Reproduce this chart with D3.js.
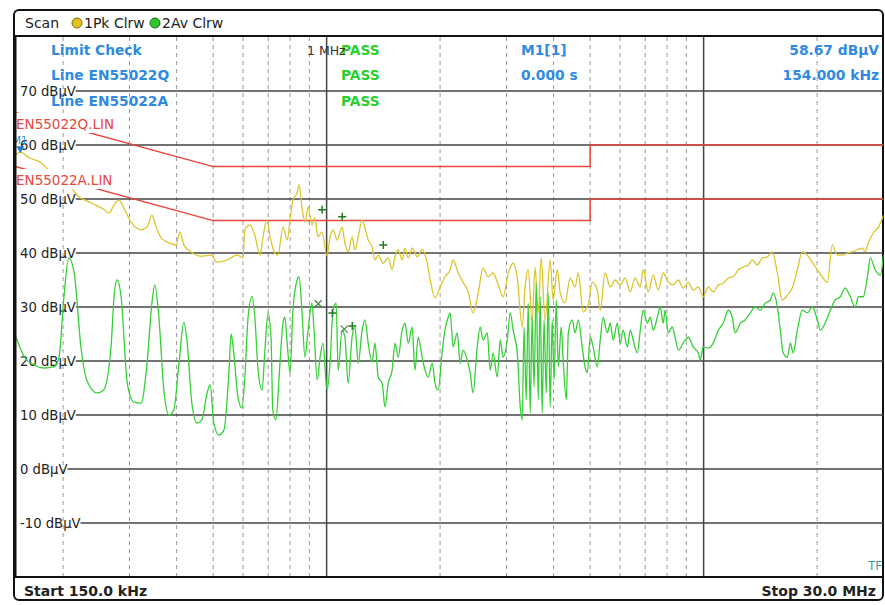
<!DOCTYPE html>
<html>
<head>
<meta charset="utf-8">
<script src="https://cdn.jsdelivr.net/npm/d3@7"></script>
<style>
  body { margin: 0; background: #fff; }
  svg { display: block; font-family: "DejaVu Sans", sans-serif; }
</style>
</head>
<body>
<svg id="chart" width="885" height="605"></svg>
<script>
// levels of the horizontal grid (dBuV)
const gridLevels = [70, 60, 50, 40, 30, 20, 10, 0, -10];
// vertical grid, kHz
const minorFreqs = [200, 300, 400, 500, 600, 700, 800, 900,
  2000, 3000, 4000, 5000, 6000, 7000, 8000, 9000, 20000];
const majorFreqs = [1000, 10000];

// EN55022 limit lines [kHz, dBuV]
const limitQP = [[150, 66], [500, 56], [5000, 56], [5000, 60], [30000, 60]];
const limitAV = [[150, 56], [500, 46], [5000, 46], [5000, 50], [30000, 50]];

// trace 1: peak, clear/write [kHz, dBuV]
const peakTrace = [
  [150, 58.2], [154, 58.67], [163, 57.6], [174, 56.8], [181, 55.7], [196, 53.5], [209, 52.3],
  [218, 50.7], [237, 49.3], [256, 48.1], [265, 47.4], [273, 48.9], [281, 49.8], [290, 48.3],
  [303, 45.7], [322, 44.3], [334, 44.8], [344, 47.0], [353, 44.8], [364, 42.8], [382, 41.9],
  [399, 41.5], [408, 43.9], [418, 41.5], [437, 40.2], [464, 39.4], [494, 39.6], [512, 38.3],
  [544, 38.7], [554, 39.0], [579, 39.6], [600, 39.1], [607, 44.3], [626, 45.2], [645, 43.3],
  [666, 39.6], [678, 43.0], [695, 46.1], [708, 43.0], [729, 40.0], [743, 39.6], [766, 44.8],
  [786, 42.4], [800, 46.1], [814, 49.8], [835, 51.1], [845, 52.6], [860, 48.5], [876, 45.7],
  [893, 48.5], [914, 45.2], [930, 46.5], [949, 43.0], [972, 43.9], [1003, 39.4], [1021, 43.0],
  [1040, 44.3], [1066, 42.4], [1099, 44.8], [1118, 41.9], [1141, 40.2], [1168, 43.0], [1189, 40.6],
  [1213, 43.0], [1242, 46.1], [1264, 44.6], [1289, 42.4], [1320, 41.1], [1343, 38.7], [1371, 39.6],
  [1412, 38.1], [1457, 39.1], [1492, 36.9], [1518, 39.3], [1549, 40.6], [1586, 38.7], [1614, 40.9],
  [1646, 39.1], [1686, 40.9], [1740, 39.3], [1792, 40.6], [1849, 38.1], [1883, 35.0], [1939, 31.7],
  [2001, 33.7], [2060, 35.6], [2127, 36.9], [2165, 38.7], [2234, 36.3], [2301, 34.6], [2375, 32.8],
  [2446, 28.9], [2524, 32.6], [2600, 37.2], [2683, 35.6], [2764, 36.3], [2852, 34.1], [2938, 31.9],
  [3033, 36.3], [3124, 38.1], [3204, 35.4], [3302, 26.3], [3360, 33.7], [3426, 36.9], [3509, 27.0],
  [3571, 37.4], [3642, 28.9], [3708, 39.1], [3796, 27.6], [3918, 38.7], [3988, 31.3], [4091, 36.9],
  [4165, 32.6], [4289, 30.7], [4428, 35.4], [4560, 33.7], [4651, 36.3], [4791, 29.1], [4944, 30.4],
  [5063, 34.6], [5224, 33.1], [5319, 29.4], [5477, 36.3], [5654, 33.7], [5822, 35.0], [6010, 34.1],
  [6189, 35.4], [6389, 32.8], [6579, 35.4], [6792, 33.7], [6913, 36.9], [7133, 32.8], [7348, 35.9],
  [7582, 33.1], [7811, 36.3], [8060, 34.6], [8303, 34.1], [8568, 35.0], [8826, 33.5], [9108, 34.6],
  [9382, 33.1], [9682, 33.7], [9973, 31.9], [10292, 33.7], [10602, 32.8], [10940, 34.1], [11270, 34.4],
  [11629, 35.4], [11980, 35.6], [12362, 36.9], [12734, 37.4], [13140, 37.8], [13457, 38.7], [13884, 37.8],
  [14305, 39.1], [14759, 39.3], [15207, 40.2], [15689, 36.3], [16165, 31.3], [16677, 32.2], [17183, 33.5],
  [17727, 36.9], [18265, 40.2], [18844, 39.6], [19415, 38.3], [20031, 36.9], [20639, 35.6], [21294, 34.6],
  [21940, 41.5], [22635, 39.6], [23321, 39.6], [24061, 40.0], [24790, 40.2], [25577, 40.6], [26352, 40.9],
  [26818, 40.2], [27353, 41.9], [28177, 43.7], [29076, 44.8], [30000, 47.0]
];

// trace 2: average, clear/write [kHz, dBuV]
const avgTrace = [
  [150, 24.4], [158, 20.7], [167, 19.3], [178, 18.7], [189, 18.9], [195, 20.7], [201, 31.9],
  [207, 39.1], [214, 36.3], [223, 22.6], [231, 16.5], [246, 14.1], [256, 14.6], [268, 22.6],
  [273, 31.9], [278, 35.0], [285, 31.9], [296, 15.9], [308, 12.4], [322, 12.2], [334, 19.6],
  [344, 30.7], [350, 34.1], [359, 28.1], [370, 14.6], [382, 10.0], [393, 10.9], [406, 19.6],
  [418, 27.2], [426, 23.9], [439, 12.2], [453, 8.5], [467, 9.1], [482, 14.1], [491, 15.6],
  [502, 8.5], [518, 6.3], [534, 7.2], [551, 18.3], [558, 25.0], [565, 22.6], [582, 13.3],
  [596, 11.3], [607, 17.0], [619, 28.1], [634, 31.9], [645, 28.1], [658, 18.3], [674, 14.6],
  [686, 22.0], [699, 28.9], [712, 24.4], [720, 10.9], [734, 9.1], [748, 17.0], [766, 27.0],
  [775, 28.1], [786, 23.3], [800, 17.8], [814, 29.4], [835, 35.0], [845, 35.6], [860, 29.4],
  [876, 20.7], [893, 25.7], [914, 30.7], [925, 26.3], [944, 16.5], [961, 20.7], [978, 23.3],
  [1003, 14.6], [1021, 19.6], [1040, 29.4], [1060, 30.7], [1073, 18.3], [1099, 25.7], [1118, 24.4],
  [1141, 15.9], [1168, 24.4], [1189, 26.3], [1213, 19.6], [1242, 25.7], [1264, 27.6], [1289, 23.3],
  [1320, 19.8], [1343, 23.3], [1371, 17.0], [1404, 15.9], [1428, 11.5], [1457, 15.9], [1492, 18.3],
  [1518, 23.3], [1549, 20.7], [1586, 25.7], [1614, 27.0], [1646, 23.3], [1686, 26.3], [1715, 18.3],
  [1750, 24.4], [1792, 20.7], [1824, 18.3], [1860, 17.0], [1905, 19.6], [1939, 15.9], [1977, 14.6],
  [2024, 21.5], [2060, 25.7], [2101, 28.1], [2127, 28.9], [2165, 22.6], [2220, 25.2], [2261, 19.6],
  [2301, 22.0], [2360, 20.2], [2403, 17.8], [2446, 14.1], [2509, 22.6], [2555, 26.3], [2600, 23.9],
  [2667, 25.2], [2716, 18.3], [2764, 21.5], [2835, 17.0], [2887, 23.9], [2938, 20.7], [3014, 23.9],
  [3069, 28.9], [3124, 25.7], [3204, 21.5], [3263, 11.5], [3302, 9.1], [3340, 26.3], [3385, 12.8],
  [3426, 30.7], [3468, 10.4], [3509, 28.1], [3550, 15.2], [3598, 34.4], [3642, 12.8], [3686, 31.9],
  [3730, 10.4], [3774, 27.6], [3825, 14.1], [3872, 32.6], [3918, 11.5], [3965, 27.6], [4012, 16.5],
  [4066, 31.3], [4116, 18.9], [4190, 26.3], [4240, 20.2], [4323, 12.8], [4376, 25.2], [4481, 27.6],
  [4560, 25.2], [4651, 27.6], [4763, 22.6], [4847, 18.9], [4914, 17.8], [5003, 24.4], [5093, 22.6],
  [5224, 18.9], [5319, 23.9], [5414, 28.1], [5553, 25.2], [5654, 27.0], [5755, 23.9], [5903, 27.0],
  [6010, 23.3], [6118, 25.7], [6275, 22.6], [6389, 25.7], [6503, 23.9], [6670, 21.5], [6792, 25.7],
  [6913, 29.4], [7090, 27.0], [7219, 28.1], [7348, 25.7], [7537, 28.1], [7674, 30.0], [7811, 27.0],
  [7903, 29.4], [8060, 25.2], [8254, 26.3], [8400, 24.4], [8568, 22.0], [8826, 23.3], [9108, 24.4],
  [9382, 22.6], [9682, 21.5], [9798, 20.2], [9973, 22.6], [10292, 22.4], [10602, 23.3], [10940, 25.7],
  [11270, 27.0], [11629, 29.4], [11909, 28.1], [12120, 25.2], [12511, 27.0], [12883, 27.6], [13299, 28.9],
  [13695, 30.0], [14137, 29.4], [14558, 30.7], [15028, 31.3], [15296, 32.6], [15689, 30.0], [15975, 25.7],
  [16260, 21.5], [16677, 20.7], [16980, 23.3], [17284, 21.5], [17727, 25.7], [18265, 29.4], [18844, 28.9],
  [19415, 30.0], [20031, 27.6], [20396, 25.7], [21003, 27.0], [21681, 29.4], [22327, 31.3], [23047, 31.9],
  [23733, 33.5], [24499, 31.9], [25228, 30.0], [25732, 31.9], [26508, 31.9], [27188, 35.6], [27682, 39.1],
  [28507, 36.9], [29427, 35.9], [30000, 39.6]
];

// final measurement results [kHz, dBuV]
const plusMarks = [[973, 48.0], [1100, 46.7], [1414, 41.5], [1036, 28.9], [1170, 26.5]];
const crossMarks = [[950, 30.6], [1114, 25.9]];

// marker M1
const marker = [154, 58.67];

const svg = d3.select('#chart');
const plot = { left: 16, right: 883.5, top: 37, bottom: 577 };

const x = d3.scaleLog().domain([150, 30000]).range([plot.left, plot.right]);
const y = d3.scaleLinear().domain([-20, 80]).range([plot.bottom, plot.top]);

const blue = '#2f8be2', red = '#e8463c', gridDark = '#444';

// outer frame
svg.append('rect')
  .attr('x', 14).attr('y', 10).attr('width', 869).attr('height', 590)
  .attr('rx', 5).attr('fill', '#fff').attr('stroke', '#111').attr('stroke-width', 2);

svg.append('clipPath').attr('id', 'clip')
  .append('rect')
  .attr('x', plot.left).attr('y', plot.top)
  .attr('width', plot.right - plot.left).attr('height', plot.bottom - plot.top);

const g = svg.append('g').attr('clip-path', 'url(#clip)');

// vertical grid
g.selectAll('.vminor').data(minorFreqs).enter().append('line')
  .attr('x1', d => x(d)).attr('x2', d => x(d))
  .attr('y1', plot.top).attr('y2', plot.bottom)
  .attr('stroke', '#9a9a9a').attr('stroke-width', 1).attr('stroke-dasharray', '4,4');

g.selectAll('.vmajor').data(majorFreqs).enter().append('line')
  .attr('x1', d => x(d)).attr('x2', d => x(d))
  .attr('y1', plot.top).attr('y2', plot.bottom)
  .attr('stroke', gridDark).attr('stroke-width', 1.5);

// horizontal grid with labels in front
gridLevels.forEach(lv => {
  const t = g.append('text')
    .attr('x', 20).attr('y', y(lv) + 4.5)
    .attr('font-size', 13.2).attr('fill', '#222')
    .text(lv + ' dB\u00b5V');
  const end = 20 + t.node().getComputedTextLength();
  g.append('line')
    .attr('x1', end).attr('x2', plot.right)
    .attr('y1', y(lv)).attr('y2', y(lv))
    .attr('stroke', gridDark).attr('stroke-width', 1.6);
});

const line = d3.line().x(d => x(d[0])).y(d => y(d[1]));
const trace = d3.line().x(d => x(d[0])).y(d => y(d[1])).curve(d3.curveMonotoneX);

// limit lines
[limitQP, limitAV].forEach(lim => {
  g.append('path').datum(lim).attr('d', line)
    .attr('fill', 'none').attr('stroke', red).attr('stroke-width', 1.5);
});

// traces
g.append('path').datum(peakTrace).attr('d', trace)
  .attr('fill', 'none').attr('stroke', '#dcc52c').attr('stroke-width', 1.3);
g.append('path').datum(avgTrace).attr('d', trace)
  .attr('fill', 'none').attr('stroke', '#36d036').attr('stroke-width', 1.3);

// final result marks
g.selectAll('.plus').data(plusMarks).enter().append('path')
  .attr('d', d => {
    const px = x(d[0]), py = y(d[1]);
    return `M${px - 4},${py}H${px + 4}M${px},${py - 4}V${py + 4}`;
  })
  .attr('stroke', '#1f7a1f').attr('stroke-width', 1.5);
g.selectAll('.cross').data(crossMarks).enter().append('path')
  .attr('d', d => {
    const px = x(d[0]), py = y(d[1]);
    return `M${px - 3.5},${py - 3.5}L${px + 3.5},${py + 3.5}M${px - 3.5},${py + 3.5}L${px + 3.5},${py - 3.5}`;
  })
  .attr('stroke', '#3d8a3d').attr('stroke-width', 1.2);

// limit line labels (white box behind)
[['EN55022Q.LIN', 129, 113], ['EN55022A.LIN', 185, 169]].forEach(([txt, base, top]) => {
  const box = g.append('rect').attr('x', plot.left).attr('y', top)
    .attr('height', 20).attr('fill', '#fff');
  const t = g.append('text').attr('x', plot.left).attr('y', base)
    .attr('font-size', 13.5).attr('fill', red).text(txt);
  box.attr('width', t.node().getComputedTextLength() + 2);
});

// marker M1
g.append('path')
  .attr('d', () => {
    const px = x(marker[0]), py = y(marker[1]);
    return `M${px - 4},${py - 6}L${px + 4},${py - 6}L${px},${py + 1}Z`;
  })
  .attr('fill', '#1e7fd8');
g.append('text').attr('x', x(marker[0]) - 8).attr('y', y(marker[1]) - 8)
  .attr('font-size', 10).attr('fill', blue).text('M1');

g.append('text').attr('x', 868).attr('y', 570)
  .attr('font-size', 12).attr('fill', '#3a9aa8').text('TF');

// info block
const info = svg.append('g').attr('font-weight', 'bold').attr('font-size', 13.8);
[['Limit Check', 55], ['Line EN55022Q', 80], ['Line EN55022A', 106]].forEach(([s, yy]) => {
  info.append('text').attr('x', 51).attr('y', yy).attr('fill', blue).text(s);
});
svg.append('text').attr('x', 307).attr('y', 55)
  .attr('font-size', 12.5).attr('fill', '#333').text('1 MHz');
[55, 80, 106].forEach(yy => {
  info.append('text').attr('x', 341).attr('y', yy).attr('fill', '#2ccf2c').text('PASS');
});
info.append('text').attr('x', 521).attr('y', 55).attr('fill', blue).text('M1[1]');
info.append('text').attr('x', 521).attr('y', 80).attr('fill', blue).text('0.000 s');
info.append('text').attr('x', 879).attr('y', 55).attr('text-anchor', 'end').attr('fill', blue).text('58.67 dB\u00b5V');
info.append('text').attr('x', 879).attr('y', 80).attr('text-anchor', 'end').attr('fill', blue).text('154.000 kHz');

// header / borders
svg.append('line').attr('x1', 14).attr('x2', 883).attr('y1', 36).attr('y2', 36)
  .attr('stroke', '#111').attr('stroke-width', 2);
svg.append('line').attr('x1', 15).attr('x2', 15).attr('y1', 36).attr('y2', 577)
  .attr('stroke', '#111').attr('stroke-width', 3);
svg.append('line').attr('x1', 14).attr('x2', 883).attr('y1', 577).attr('y2', 577)
  .attr('stroke', '#111').attr('stroke-width', 2);

const hdr = svg.append('g').attr('font-size', 14).attr('fill', '#222');
hdr.append('text').attr('x', 25).attr('y', 28).text('Scan');
svg.append('circle').attr('cx', 77).attr('cy', 23).attr('r', 5)
  .attr('fill', '#e2c21e').attr('stroke', '#7a6a10').attr('stroke-width', 1);
hdr.append('text').attr('x', 84).attr('y', 28).text('1Pk Clrw');
svg.append('circle').attr('cx', 155).attr('cy', 23).attr('r', 5)
  .attr('fill', '#2ec82e').attr('stroke', '#1a6a1a').attr('stroke-width', 1);
hdr.append('text').attr('x', 162).attr('y', 28).text('2Av Clrw');

// footer
const ftr = svg.append('g').attr('font-size', 14).attr('font-weight', 'bold').attr('fill', '#222');
ftr.append('text').attr('x', 24).attr('y', 596).text('Start 150.0 kHz');
ftr.append('text').attr('x', 876).attr('y', 596).attr('text-anchor', 'end').text('Stop 30.0 MHz');
</script>
</body>
</html>
